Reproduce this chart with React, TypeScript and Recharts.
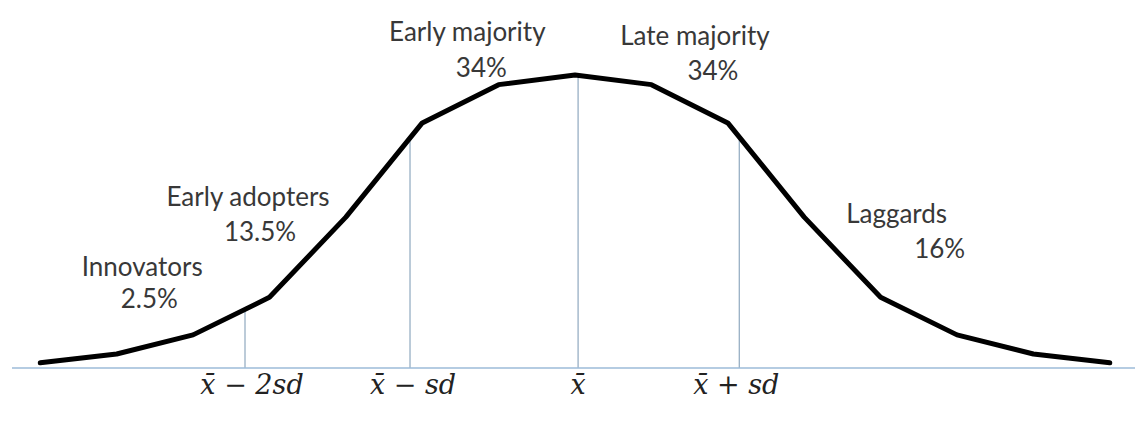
import React from "react";
import {
  LineChart,
  Line,
  XAxis,
  YAxis,
  ReferenceLine,
  ReferenceDot,
} from "recharts";

// Curve samples, evenly spaced along x
const curveIndex = [0, 1, 2, 3, 4, 5, 6, 7, 8, 9, 10, 11, 12, 13, 14];
const curveValues = [0.7, 1.9, 4.5, 9.6, 20.5, 33.3, 38.5, 39.8, 38.5, 33.3, 20.5, 9.6, 4.5, 1.9, 0.7];

// Mean / sd markers on the axis
const markerX = [2.68, 4.84, 7.04, 9.15];
const markerTop = [8.2, 31.0, 39.8, 31.4];
const markerLabels = ["x\u0304 \u2212 2sd", "x\u0304 \u2212 sd", "x\u0304", "x\u0304 + sd"];

// Adopter groups
const groupNames = ["Innovators", "Early adopters", "Early majority", "Late majority", "Laggards"];
const groupShares = ["2.5%", "13.5%", "34%", "34%", "16%"];

// label placement (data coords for the name line, px offset for the share line)
const groupAnchors = [
  { x: 1.335, y: 12.5, dx: 7, dy: 32 },
  { x: 2.72, y: 22.0, dx: 12, dy: 35 },
  { x: 5.59, y: 44.4, dx: 14, dy: 36 },
  { x: 8.57, y: 43.9, dx: 18, dy: 35 },
  { x: 11.21, y: 19.7, dx: 43, dy: 35 },
];

const data = curveIndex.map((i, k) => ({ i, v: curveValues[k] }));

const textColor = "#383838";
const labelFont = "Lato, 'Noto Sans', sans-serif";

// tick label offsets so the text sits a bit right of its line, like the original
const tickShift = [7, 3, 0, -3];

const MarkerTick = (props: any) => {
  const { x, y, payload } = props;
  const k = markerX.indexOf(payload.value);
  return (
    <text
      x={x + (tickShift[k] || 0)}
      y={y + 18}
      textAnchor="middle"
      fill="#222"
      fontSize={27}
      fontStyle="italic"
      fontFamily="'DejaVu Serif', serif"
      style={{ whiteSpace: "pre" }}
    >
      {markerLabels[k]}
    </text>
  );
};

const App = () => {
  return (
    <div style={{ position: "absolute", left: 0, top: 0, width: 1135, height: 421, background: "#fff" }}>
      <LineChart width={1135} height={421} data={data} margin={{ top: 0, right: 0, left: 12, bottom: 0 }}>
        <XAxis
          type="number"
          dataKey="i"
          domain={[-0.37, 14.33]}
          ticks={markerX}
          height={53}
          tickLine={false}
          axisLine={{ stroke: "#9dbbd8", strokeWidth: 1.5 }}
          tick={<MarkerTick />}
          interval={0}
        />
        <YAxis hide domain={[0, 50]} />

        {/* vertical marker lines up to the curve */}
        {markerX.map((x, k) => (
          <ReferenceLine
            key={"m" + k}
            segment={[
              { x, y: 0 },
              { x, y: markerTop[k] },
            ]}
            stroke="#8fa8bf"
            strokeWidth={1.2}
          />
        ))}

        <Line
          type="linear"
          dataKey="v"
          stroke="#000"
          strokeWidth={5}
          strokeLinejoin="round"
          strokeLinecap="round"
          dot={false}
          isAnimationActive={false}
        />

        {groupNames.map((name, k) => {
          const a = groupAnchors[k];
          return (
            <ReferenceDot
              key={"g" + k}
              x={a.x}
              y={a.y}
              r={0}
              ifOverflow="visible"
              shape={(p: any) => (
                <g>
                  <text x={p.cx} y={p.cy} textAnchor="middle" fill={textColor} fontSize={26} fontFamily={labelFont}>
                    {name}
                  </text>
                  <text x={p.cx + a.dx} y={p.cy + a.dy} textAnchor="middle" fill={textColor} fontSize={26} fontFamily={labelFont}>
                    {groupShares[k]}
                  </text>
                </g>
              )}
            />
          );
        })}
      </LineChart>
    </div>
  );
};

export default App;
